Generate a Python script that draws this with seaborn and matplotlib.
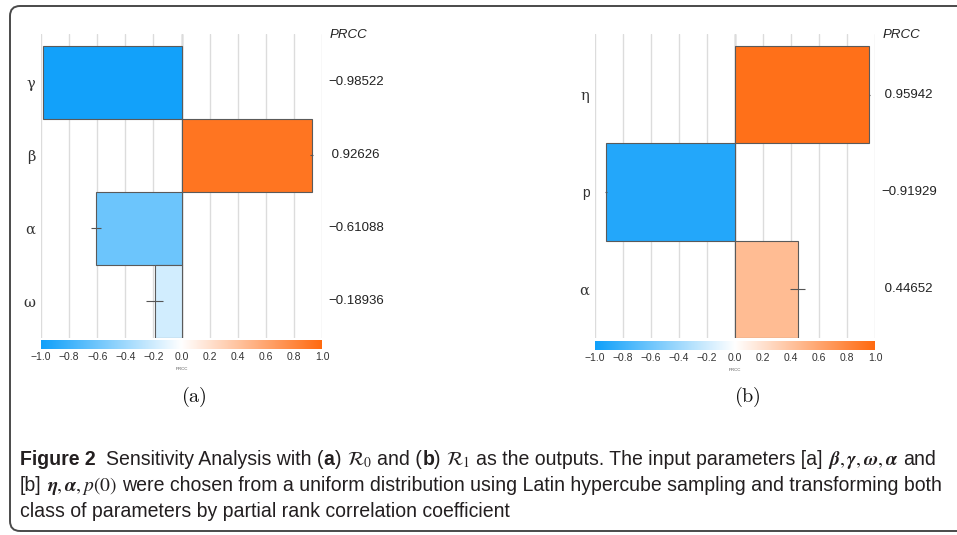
import numpy as np
import pandas as pd
import matplotlib
matplotlib.use("Agg")
import matplotlib.pyplot as plt
import seaborn as sns
from matplotlib.colors import LinearSegmentedColormap, Normalize
from matplotlib.patches import FancyBboxPatch
import matplotlib.transforms as mtransforms

# ---------------- data ----------------
params_a = ["γ", "β", "α", "ω"]
prcc_a = [-0.98522, 0.92626, -0.61088, -0.18936]
err_a = [0.0, 0.01, 0.035, 0.06]

params_b = ["η", "p", "α"]
prcc_b = [0.95942, -0.91929, 0.44652]
err_b = [0.004, 0.006, 0.053]

cbar_ticks = [-1.0, -0.8, -0.6, -0.4, -0.2, 0.0, 0.2, 0.4, 0.6, 0.8, 1.0]
cbar_labels = ["−1.0", "−0.8", "−0.6", "−0.4", "−0.2", "0.0", "0.2", "0.4", "0.6", "0.8", "1.0"]

# ---------------- style ----------------
sns.set_theme(style="white")
plt.rcParams["font.family"] = ["Liberation Sans", "DejaVu Sans"]

W, H = 957, 535
fig = plt.figure(figsize=(W / 100, H / 100), dpi=100)
fig.patch.set_facecolor("white")

cmap = LinearSegmentedColormap.from_list("prcc", ["#10A0FA", "#FFFFFF", "#FF6A10"])
norm = Normalize(-1, 1)


def fmt(v):
    s = f"{abs(v):.5f}"
    return ("−" + s) if v < 0 else (" " + s)


def panel(rect, crect, labels, values, errs, top_extra, sub_label, sub_x):
    ax = fig.add_axes(rect)
    df = pd.DataFrame({"param": labels, "prcc": values})
    colors = {l: cmap(norm(v)) for l, v in zip(labels, values)}
    sns.barplot(data=df, x="prcc", y="param", hue="param", palette=colors,
                order=labels, hue_order=labels, orient="h", width=1.0,
                saturation=1.0, edgecolor="#5a5a5a", linewidth=0.8, legend=False,
                errorbar=None, ax=ax)
    pos = np.arange(len(labels))
    ax.errorbar(values, pos, xerr=errs, fmt="none", ecolor="#555555",
                elinewidth=0.8, capsize=0, zorder=5)
    ax.set_xlim(-1, 1)
    ax.set_ylim(len(labels) - 0.5, -0.5 - top_extra)
    ax.set_xticks(cbar_ticks)
    ax.xaxis.grid(True, color="#dcdcdc", lw=1.0)
    ax.yaxis.grid(False)
    ax.set_axisbelow(True)
    ax.axvline(0, color="#9a9a9a", lw=1.0, zorder=0.5)
    ax.tick_params(axis="x", length=0, labelbottom=False)
    ax.tick_params(axis="y", length=0, pad=4, labelsize=10.5, labelcolor="#333333")
    for t in ax.get_yticklabels():
        if t.get_text() == "p":
            t.set_family(["Liberation Sans", "DejaVu Sans"])
            t.set_fontsize(10)
        else:
            t.set_family(["DejaVu Serif"])
    ax.set_xlabel("")
    ax.set_ylabel("")
    for s in ax.spines.values():
        s.set_visible(False)
    ax.set_facecolor("white")

    trans = mtransforms.blended_transform_factory(ax.transAxes, ax.transData)
    for i, v in enumerate(values):
        ax.annotate(fmt(v), xy=(1, i), xycoords=trans, xytext=(4.5, 0),
                    textcoords="offset points", ha="left", va="center",
                    fontsize=9.5, color="#222222")
    ax.annotate("PRCC", xy=(1, 1), xycoords="axes fraction", xytext=(5.5, -1),
                textcoords="offset points", ha="left", va="center",
                fontsize=9.5, style="italic", color="#222222")

    cax = fig.add_axes(crect)
    grad = np.linspace(-1, 1, 512)[None, :]
    cax.imshow(grad, cmap=cmap, norm=norm, aspect="auto", extent=[-1, 1, 0, 1])
    cax.set_xlim(-1, 1)
    cax.set_yticks([])
    cax.set_xticks(cbar_ticks)
    cax.set_xticklabels(cbar_labels)
    cax.tick_params(axis="x", length=0, pad=2, labelsize=7.5, labelcolor="#333333")
    for s in cax.spines.values():
        s.set_visible(False)
    cax.set_xlabel("PRCC", fontsize=3.2, labelpad=4, color="#555555")

    fig.text(sub_x / W, 1 - 397 / H, sub_label, ha="center", va="center",
             fontsize=14.5, math_fontfamily="cm", color="#111111")
    return ax


panel([41 / W, 1 - 338 / H, 281 / W, 304 / H], [41 / W, 1 - 349 / H, 281 / W, 9 / H],
      params_a, prcc_a, err_a, 0.164, r"$(\mathrm{a})$", 194)
panel([595 / W, 1 - 338 / H, 280 / W, 304 / H], [595 / W, 1 - 350 / H, 280 / W, 9 / H],
      params_b, prcc_b, err_b, 0.123, r"$(\mathrm{b})$", 747)

# ---------------- frame ----------------
frame = FancyBboxPatch((0.10, 0.04), 10.0, 5.25, boxstyle="round,pad=0,rounding_size=0.1",
                       transform=fig.dpi_scale_trans, fill=False, edgecolor="#4a4a4a",
                       lw=1.4, clip_on=False)
fig.add_artist(frame)

# ---------------- caption ----------------
renderer = fig.canvas.get_renderer()
cap_family = ["Liberation Sans Narrow", "Liberation Sans", "DejaVu Sans"]
cap_color = "#231f20"
BOLD = {"weight": "bold"}
NORM = {}


def draw_line(segs, x_px, y_px, size):
    texts = []
    x = x_px
    probe1 = fig.text(0, 0, "a a", fontsize=size, family=cap_family)
    probe2 = fig.text(0, 0, "aa", fontsize=size, family=cap_family)
    gap = probe1.get_window_extent(renderer).width - probe2.get_window_extent(renderer).width
    probe1.remove(); probe2.remove()
    for s, kw in segs:
        if s is None:
            x += gap * kw
            continue
        t = fig.text(x / W, 1 - y_px / H, s, fontsize=size, family=cap_family,
                     ha="left", va="baseline", color=cap_color, math_fontfamily="stix", **kw)
        try:
            bb = t.get_window_extent(renderer)
        except Exception:
            t.set_text(s.replace(r"\boldsymbol", r"\mathbf"))
            bb = t.get_window_extent(renderer)
        x = bb.x1
        texts.append(t)
    return texts, x


line1 = [("Figure 2", BOLD), (None, 2), ("Sensitivity Analysis with (", NORM), ("a", BOLD),
         (")", NORM), (None, 1), (r"$\mathcal{R}_0$", NORM), (None, 1), ("and (", NORM), ("b", BOLD),
         (")", NORM), (None, 1), (r"$\mathcal{R}_1$", NORM), (None, 1),
         ("as the outputs. The input parameters [a]", NORM), (None, 1),
         (r"$\boldsymbol{\beta},\boldsymbol{\gamma},\boldsymbol{\omega},\boldsymbol{\alpha}$", NORM),
         (None, 1), ("and", NORM)]
line2 = [("[b]", NORM), (None, 1), (r"$\boldsymbol{\eta},\boldsymbol{\alpha},p(0)$", NORM), (None, 1),
         ("were chosen from a uniform distribution using Latin hypercube sampling and transforming both", NORM)]
line3 = [("class of parameters by partial rank correlation coefficient", NORM)]

size0 = 12.0
txts, xend = draw_line(line1, 20, 465, size0)
for t in txts:
    t.remove()
size = size0 * (938 - 20) / (xend - 20)
draw_line(line1, 20, 465, size)
draw_line(line2, 20, 491, size)
draw_line(line3, 20, 517, size)

fig.savefig("out.png", dpi=100)
